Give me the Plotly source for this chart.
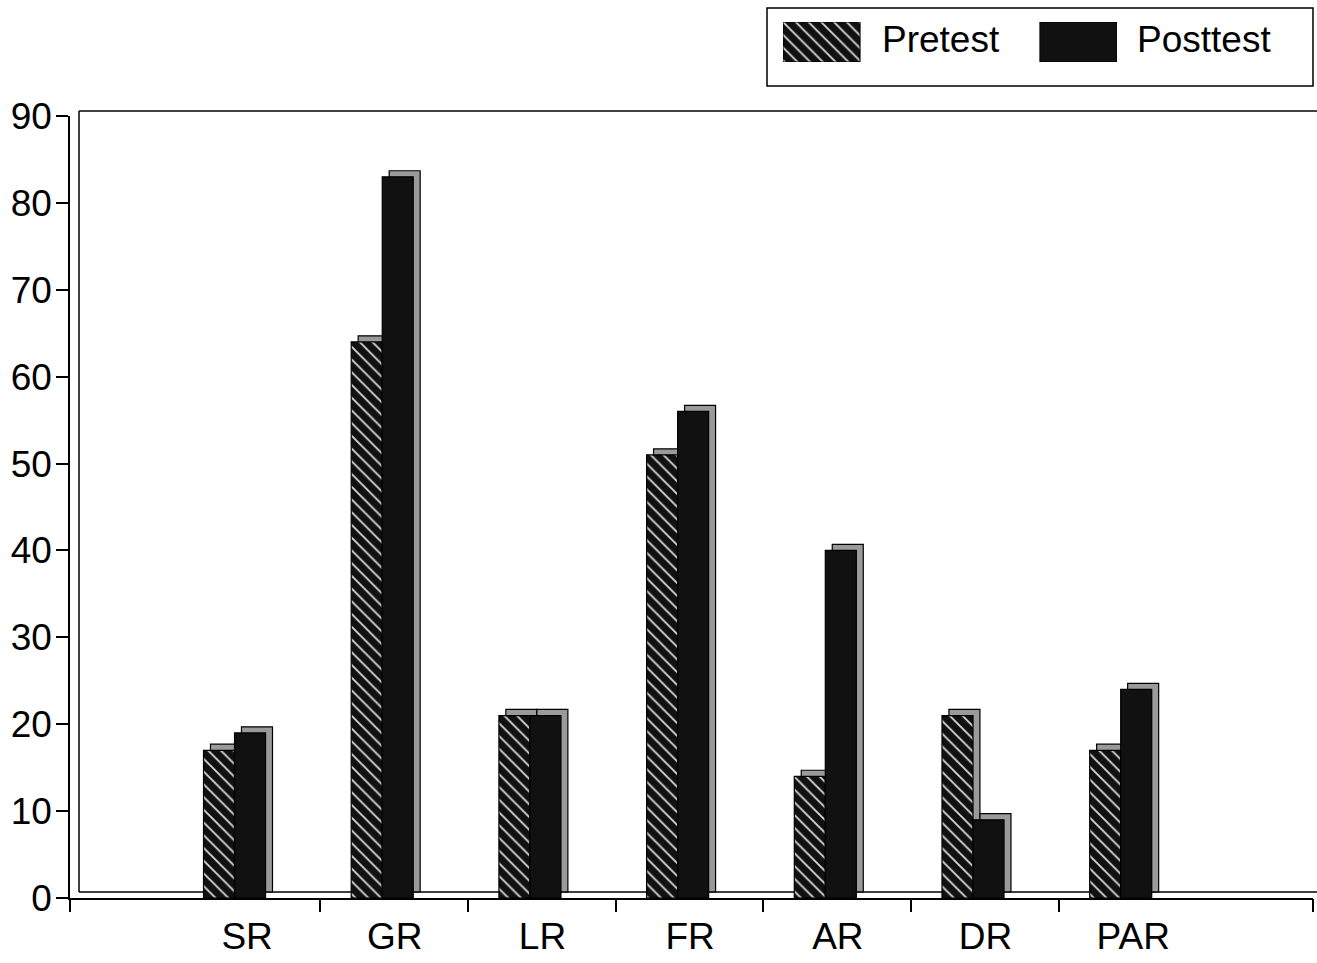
import plotly.graph_objects as go

# ---- data ----
categories = ["SR", "GR", "LR", "FR", "AR", "DR", "PAR"]
pretest = [17, 64, 21, 51, 14, 21, 17]
posttest = [19, 83, 21, 56, 40, 9, 24]
series_names = ["Pretest", "Posttest"]
y_tick_values = [0, 10, 20, 30, 40, 50, 60, 70, 80, 90]

# ---- geometry (figure pixels) ----
W, H = 1317, 963
PL, PR, PT, PB = 70, 1313, 116, 898          # front plot box
X_MIN, X_MAX = -1.114, 7.302                 # category axis range
BAR_W = 0.21
DEPTH_X = 0.047                              # 3-D depth offset, x units
DEPTH_Y = 0.7                                # 3-D depth offset, y units

FONT = "Liberation Sans, Arial, Helvetica, sans-serif"
FS = 37
INK = "#111111"
SIDE = "#9a9a9a"


def fx(px):
    return px / W


def fy(py):
    return 1 - py / H


pos = list(range(len(categories)))
hatch = dict(shape="\\", bgcolor=INK, fgcolor="#d9d9d9", size=9, solidity=0.2)
outline = dict(color="black", width=1.2)

fig = go.Figure()

front_styles = [
    dict(color=INK, pattern=hatch, line=outline),
    dict(color=INK, line=outline),
]
offsets = [-BAR_W, 0.0]

for name, vals, off, style in zip(series_names, [pretest, posttest], offsets, front_styles):
    # receding side/top faces of the block
    fig.add_trace(go.Bar(
        x=pos, y=vals, base=DEPTH_Y, offset=off + DEPTH_X, width=BAR_W,
        marker=dict(color=SIDE, line=outline),
        showlegend=False, hoverinfo="skip",
    ))
    # front face
    fig.add_trace(go.Bar(
        x=pos, y=vals, base=0, offset=off, width=BAR_W,
        marker=style, name=name, showlegend=False,
    ))

# invisible anchor for the category-boundary tick axis
fig.add_trace(go.Scatter(x=[X_MIN], y=[0], xaxis="x2", yaxis="y",
                         mode="markers", marker=dict(opacity=0),
                         showlegend=False, hoverinfo="skip"))

# legend keys drawn as a tiny bar chart inside the legend box
for i, (name, style) in enumerate(zip(series_names, front_styles)):
    fig.add_trace(go.Bar(
        x=[i], y=[1], width=0.3, xaxis="x3", yaxis="y3",
        marker=dict(color=style["color"], pattern=style.get("pattern"),
                    line=dict(color="black", width=1)),
        showlegend=False, hoverinfo="skip",
    ))

boundary_ticks = [X_MIN] + [p + 0.58 for p in pos[:-1]] + [X_MAX]

fig.update_layout(
    width=W, height=H,
    margin=dict(l=0, r=0, t=0, b=0),
    template="none",
    paper_bgcolor="white", plot_bgcolor="rgba(0,0,0,0)",
    barmode="overlay",
    font=dict(family=FONT, size=FS, color="black"),
    xaxis=dict(
        domain=[fx(PL), fx(PR)], range=[X_MIN, X_MAX], anchor="y",
        tickmode="array", tickvals=[p + 0.085 for p in pos], ticktext=categories,
        ticks="", ticklabelstandoff=5, showline=True, linecolor="black",
        linewidth=1.5, showgrid=False, zeroline=False, automargin=False,
        tickfont=dict(size=FS),
    ),
    xaxis2=dict(
        domain=[fx(PL), fx(PR)], range=[X_MIN, X_MAX], anchor="y",
        overlaying="x", side="bottom", tickmode="array", tickvals=boundary_ticks,
        ticks="outside", ticklen=13, tickwidth=1.5, tickcolor="black",
        showticklabels=False, showline=False, showgrid=False, zeroline=False,
        automargin=False,
    ),
    yaxis=dict(
        domain=[fy(PB), fy(PT)], range=[0, 90], anchor="x",
        tickmode="array", tickvals=y_tick_values,
        ticks="outside", ticklen=12, tickwidth=1.5, tickcolor="black",
        ticklabelstandoff=-3,
        showline=True, linecolor="black", linewidth=1.5,
        showgrid=False, zeroline=False, automargin=False,
        tickfont=dict(size=FS),
    ),
    xaxis3=dict(domain=[fx(783), fx(1117)], range=[-0.15, 1.15],
                anchor="y3", visible=False),
    yaxis3=dict(domain=[fy(62), fy(22)], range=[0, 1],
                anchor="x3", visible=False),
    showlegend=False,
)

# legend labels
for label, px in zip(series_names, [880, 1135]):
    fig.add_annotation(x=fx(px), y=fy(39), xref="paper", yref="paper",
                       text=label, showarrow=False, xanchor="left",
                       yanchor="middle", font=dict(size=FS, color="black"))

line_style = dict(color="black", width=1.5)
# legend frame
fig.add_shape(type="rect", xref="paper", yref="paper",
              x0=fx(767), x1=fx(1313), y0=fy(86), y1=fy(8), line=line_style)
# back wall and floor edges of the 3-D box
fig.add_shape(type="line", xref="paper", yref="paper",
              x0=fx(79), x1=fx(1317), y0=fy(111), y1=fy(111), line=line_style)
fig.add_shape(type="line", xref="paper", yref="paper",
              x0=fx(79), x1=fx(79), y0=fy(111), y1=fy(892), line=line_style)
fig.add_shape(type="line", xref="paper", yref="paper", layer="below",
              x0=fx(79), x1=fx(1317), y0=fy(892), y1=fy(892), line=line_style)

fig.write_html("out.html")
